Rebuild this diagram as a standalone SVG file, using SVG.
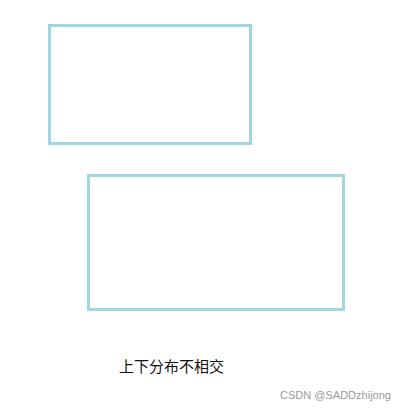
<svg xmlns="http://www.w3.org/2000/svg" width="404" height="411" viewBox="0 0 404 411">
<style>
.box{fill:#ffffff;stroke:#9fd6e1;stroke-width:3}
.lbl{font-family:"Liberation Sans","Noto Sans CJK SC",sans-serif;font-size:15px;fill:#111111}
.wm{font-family:"Liberation Sans","Noto Sans CJK SC",sans-serif;font-size:11px;fill:#9a9a9a}
</style>
<rect x="0" y="0" width="404" height="411" fill="#ffffff"/>
<g id="box-top"><rect class="box" x="49.5" y="25.5" width="201" height="118"/></g>
<g id="box-bottom"><rect class="box" x="88.5" y="175.5" width="255" height="134"/></g>
<g id="connectors"></g>
<g id="caption"><text class="lbl" x="119" y="372" textLength="105" lengthAdjust="spacingAndGlyphs">上下分布不相交</text></g>
<g id="watermark"><text class="wm" x="280" y="399" textLength="111" lengthAdjust="spacingAndGlyphs">CSDN @SADDzhijong</text></g>
</svg>
